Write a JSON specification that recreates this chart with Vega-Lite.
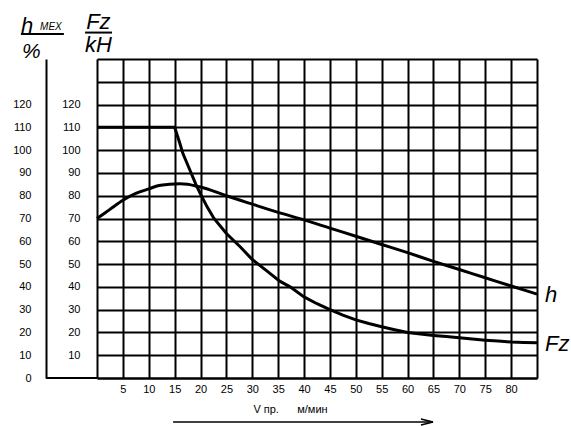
{
  "$schema": "https://vega.github.io/schema/vega-lite/v6.json",
  "width": 440,
  "height": 319,
  "autosize": {"type": "none"},
  "padding": {"left": 97, "top": 59, "right": 34, "bottom": 48},
  "background": "white",
  "config": {"view": {"stroke": null}, "font": "Liberation Sans"},
  "datasets": {
    "curves": [
      {"v": 0, "value": 110, "series": "Fz"},
      {"v": 5, "value": 110, "series": "Fz"},
      {"v": 10, "value": 110, "series": "Fz"},
      {"v": 15, "value": 110, "series": "Fz"},
      {"v": 16, "value": 103, "series": "Fz"},
      {"v": 16.6, "value": 98.5, "series": "Fz"},
      {"v": 17.9, "value": 91.5, "series": "Fz"},
      {"v": 19.1, "value": 85, "series": "Fz"},
      {"v": 20, "value": 80.7, "series": "Fz"},
      {"v": 21.3, "value": 75, "series": "Fz"},
      {"v": 22.6, "value": 70, "series": "Fz"},
      {"v": 25, "value": 63.4, "series": "Fz"},
      {"v": 27.7, "value": 57.5, "series": "Fz"},
      {"v": 30, "value": 52, "series": "Fz"},
      {"v": 32.8, "value": 47, "series": "Fz"},
      {"v": 35.3, "value": 42.5, "series": "Fz"},
      {"v": 37.3, "value": 40, "series": "Fz"},
      {"v": 40, "value": 35.6, "series": "Fz"},
      {"v": 42.5, "value": 32.6, "series": "Fz"},
      {"v": 45, "value": 30, "series": "Fz"},
      {"v": 47.5, "value": 27.6, "series": "Fz"},
      {"v": 50, "value": 25.5, "series": "Fz"},
      {"v": 52.5, "value": 23.9, "series": "Fz"},
      {"v": 55, "value": 22.5, "series": "Fz"},
      {"v": 57.5, "value": 21.2, "series": "Fz"},
      {"v": 60, "value": 20, "series": "Fz"},
      {"v": 62.5, "value": 19.3, "series": "Fz"},
      {"v": 65, "value": 18.7, "series": "Fz"},
      {"v": 67.5, "value": 18.2, "series": "Fz"},
      {"v": 70, "value": 17.7, "series": "Fz"},
      {"v": 72.5, "value": 17.1, "series": "Fz"},
      {"v": 75, "value": 16.6, "series": "Fz"},
      {"v": 77.5, "value": 16.2, "series": "Fz"},
      {"v": 80, "value": 15.8, "series": "Fz"},
      {"v": 82.5, "value": 15.6, "series": "Fz"},
      {"v": 85, "value": 15.5, "series": "Fz"},
      {"v": 0, "value": 70, "series": "h"},
      {"v": 2.5, "value": 74, "series": "h"},
      {"v": 5, "value": 78, "series": "h"},
      {"v": 7.5, "value": 81, "series": "h"},
      {"v": 10, "value": 83, "series": "h"},
      {"v": 12, "value": 84.5, "series": "h"},
      {"v": 14, "value": 85, "series": "h"},
      {"v": 16, "value": 85.2, "series": "h"},
      {"v": 17.5, "value": 85, "series": "h"},
      {"v": 19, "value": 84.3, "series": "h"},
      {"v": 20, "value": 83.8, "series": "h"},
      {"v": 22.5, "value": 82, "series": "h"},
      {"v": 25, "value": 80, "series": "h"},
      {"v": 30, "value": 76.3, "series": "h"},
      {"v": 35, "value": 72.7, "series": "h"},
      {"v": 40, "value": 69.4, "series": "h"},
      {"v": 45, "value": 65.8, "series": "h"},
      {"v": 50, "value": 62.2, "series": "h"},
      {"v": 55, "value": 58.6, "series": "h"},
      {"v": 60, "value": 55, "series": "h"},
      {"v": 65, "value": 51.2, "series": "h"},
      {"v": 70, "value": 47.6, "series": "h"},
      {"v": 75, "value": 44, "series": "h"},
      {"v": 80, "value": 40.4, "series": "h"},
      {"v": 85, "value": 36.8, "series": "h"}
    ]
  },
  "data": {"name": "curves"},
  "resolve": {"axis": {"x": "independent", "y": "independent"}},
  "layer": [
    {
      "transform": [{"filter": "datum.series == 'Fz'"}],
      "mark": {"type": "line", "color": "#000", "strokeWidth": 3, "interpolate": "linear"},
      "encoding": {
        "x": {
          "field": "v", "type": "quantitative",
          "scale": {"domain": [0, 85], "nice": false, "zero": false},
          "axis": {
            "values": [0, 5, 10, 15, 20, 25, 30, 35, 40, 45, 50, 55, 60, 65, 70, 75, 80, 85],
            "grid": true, "gridColor": "#000", "gridWidth": 2, "gridOpacity": 1,
            "domain": true, "domainColor": "#000", "domainWidth": 2,
            "ticks": false,
            "labelExpr": "datum.value > 0 && datum.value < 85 ? datum.label : ''",
            "labelFontSize": 11, "labelColor": "#000", "labelPadding": 5,
            "labelFlush": false, "labelOverlap": false,
            "title": "V пр.\u00a0\u00a0\u00a0\u00a0\u00a0\u00a0м/мин", "titleFontSize": 11, "titleFontWeight": "normal",
            "titleColor": "#000", "titleX": 193, "titleY": 34, "titleBaseline": "alphabetic"
          }
        },
        "y": {
          "field": "value", "type": "quantitative",
          "scale": {"domain": [0, 140], "nice": false, "zero": false},
          "axis": {
            "values": [0, 10, 20, 30, 40, 50, 60, 70, 80, 90, 100, 110, 120, 130, 140],
            "grid": true, "gridColor": "#000", "gridWidth": 2, "gridOpacity": 1,
            "domain": false, "ticks": false,
            "labelExpr": "datum.value >= 10 && datum.value <= 120 ? datum.label : ''",
            "labelPadding": 17, "labelFontSize": 11, "labelColor": "#000",
            "labelFlush": false, "labelOverlap": false, "title": null
          }
        }
      }
    },
    {
      "transform": [{"filter": "datum.series == 'h'"}],
      "mark": {"type": "line", "color": "#000", "strokeWidth": 3, "interpolate": "monotone"},
      "encoding": {
        "x": {"field": "v", "type": "quantitative", "axis": null},
        "y": {
          "field": "value", "type": "quantitative",
          "axis": {
            "orient": "left", "offset": 51,
            "values": [0, 10, 20, 30, 40, 50, 60, 70, 80, 90, 100, 110, 120],
            "grid": false, "domain": true, "domainColor": "#000", "domainWidth": 2,
            "ticks": false, "labelPadding": 15, "labelFontSize": 11, "labelColor": "#000",
            "labelFlush": false, "labelOverlap": false, "title": null
          }
        }
      }
    },
    {
      "transform": [{"filter": "datum.v == 85"}],
      "mark": {"type": "text", "align": "left", "baseline": "middle", "dx": 8, "dy": 1, "fontSize": 22, "fontStyle": "italic", "font": "Liberation Sans", "color": "#000"},
      "encoding": {
        "x": {"field": "v", "type": "quantitative", "axis": null},
        "y": {"field": "value", "type": "quantitative", "axis": null},
        "text": {"field": "series"}
      }
    },
    {
      "data": {"values": [{}]},
      "mark": {"type": "rule", "color": "#000", "strokeWidth": 2},
      "encoding": {
        "x": {"datum": -9.85, "axis": null},
        "x2": {"datum": 0},
        "y": {"datum": 0, "axis": null}
      }
    },
    {
      "data": {"values": [{}]},
      "mark": {"type": "rule", "color": "#000", "strokeWidth": 1.5},
      "encoding": {
        "x": {"datum": 14.7, "axis": null},
        "x2": {"datum": 64.9},
        "y": {"datum": -19.3, "axis": null}
      }
    },
    {
      "data": {"values": [{}]},
      "mark": {"type": "point", "shape": "M -2 -0.5 L 0 0 L -2 0.5", "filled": false, "size": 144, "stroke": "#000", "strokeWidth": 1.5, "opacity": 1},
      "encoding": {
        "x": {"datum": 64.9, "axis": null},
        "y": {"datum": -19.3, "axis": null}
      }
    },
    {
      "data": {"values": [{}]},
      "mark": {"type": "rule", "color": "#000", "strokeWidth": 2},
      "encoding": {
        "x": {"datum": -14.7, "axis": null},
        "x2": {"datum": -6.4},
        "y": {"datum": 151.0, "axis": null}
      }
    },
    {
      "data": {"values": [{}]},
      "mark": {"type": "rule", "color": "#000", "strokeWidth": 2},
      "encoding": {
        "x": {"datum": -2.3, "axis": null},
        "x2": {"datum": 2.9},
        "y": {"datum": 151.6, "axis": null}
      }
    },
    {
      "data": {"values": [{}]},
      "mark": {"type": "text", "text": "h", "align": "left", "baseline": "alphabetic", "fontSize": 22, "fontStyle": "italic", "font": "Liberation Sans", "color": "#000"},
      "encoding": {"x": {"datum": -14.7, "axis": null}, "y": {"datum": 151.6, "axis": null}}
    },
    {
      "data": {"values": [{}]},
      "mark": {"type": "text", "text": "МЕХ", "align": "left", "baseline": "alphabetic", "fontSize": 10, "fontStyle": "italic", "font": "Liberation Sans", "color": "#000"},
      "encoding": {"x": {"datum": -11.0, "axis": null}, "y": {"datum": 152.7, "axis": null}}
    },
    {
      "data": {"values": [{}]},
      "mark": {"type": "text", "text": "%", "align": "left", "baseline": "alphabetic", "fontSize": 21, "fontStyle": "italic", "font": "Liberation Sans", "color": "#000"},
      "encoding": {"x": {"datum": -14.5, "axis": null}, "y": {"datum": 140.4, "axis": null}}
    },
    {
      "data": {"values": [{}]},
      "mark": {"type": "text", "text": "Fz", "align": "left", "baseline": "alphabetic", "fontSize": 22, "fontStyle": "italic", "font": "Liberation Sans", "color": "#000"},
      "encoding": {"x": {"datum": -2.1, "axis": null}, "y": {"datum": 153.2, "axis": null}}
    },
    {
      "data": {"values": [{}]},
      "mark": {"type": "text", "text": "kH", "align": "left", "baseline": "alphabetic", "fontSize": 22, "fontStyle": "italic", "font": "Liberation Sans", "color": "#000"},
      "encoding": {"x": {"datum": -2.3, "axis": null}, "y": {"datum": 143.1, "axis": null}}
    }
  ]
}
